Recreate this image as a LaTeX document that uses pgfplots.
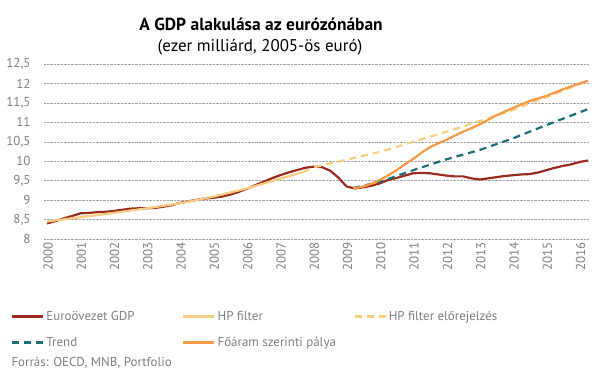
\documentclass[border=0pt]{standalone}
\usepackage{pgfplots}
\pgfplotsset{compat=1.18}
\usepackage{fontspec}
\setmainfont{PT Sans}
\definecolor{gdp}{HTML}{9C2B1F}
\definecolor{hp}{HTML}{F6CD82}
\definecolor{fo}{HTML}{F79A44}
\definecolor{tr}{HTML}{1F6E77}
\definecolor{txt}{HTML}{7F7F7F}
\begin{document}
\begin{tikzpicture}[x=1bp,y=1bp]
\path[use as bounding box] (-44bp,-139bp) rectangle (561bp,239bp);
\begin{axis}[
  at={(0,0)}, anchor=south west,
  scale only axis, width=545bp, height=175bp,
  xmin=1999.91, xmax=2016.28, ymin=8, ymax=12.5,
  ytick={8,8.5,...,12.5},
  xtick={2000,2001,...,2016},
  xticklabel style={rotate=90, anchor=east, font=\fontsize{13}{14}\selectfont, text=txt, yshift=-1bp},
  xticklabel={\pgfmathprintnumber[/pgf/number format/1000 sep=]{\tick}},
  yticklabel style={font=\fontsize{13}{14}\selectfont, text=txt, xshift=-10bp},
  /pgf/number format/use comma,
  /pgf/number format/assume math mode=true,
  axis line style={draw=none},
  major tick length=0pt,
  ymajorgrids, grid style={densely dotted, gray!70},
  legend columns=3,
  legend style={draw=none, fill=none, at={(-36bp,-68bp)}, anchor=north west,
    font=\fontsize{13}{14}\selectfont, text=txt, row sep=11bp,
    /tikz/every even column/.append style={column sep=0bp}},
  legend cell align=left,
  legend image code/.code={\draw[#1] (0bp,0bp) -- (31bp,0bp);},
  every axis plot/.append style={line width=2.2bp, line join=round},
]
\addplot[gdp] coordinates {
(2000.0,8.40)(2000.25,8.46)(2000.5,8.53)(2000.75,8.59)(2001.0,8.66)(2001.25,8.67)(2001.5,8.69)(2001.75,8.70)
(2002.0,8.72)(2002.25,8.75)(2002.5,8.78)(2002.75,8.79)(2003.0,8.79)(2003.25,8.80)(2003.5,8.83)(2003.75,8.87)
(2004.0,8.93)(2004.25,8.97)(2004.5,9.01)(2004.75,9.04)(2005.0,9.06)(2005.25,9.09)(2005.5,9.14)(2005.75,9.21)
(2006.0,9.29)(2006.25,9.38)(2006.5,9.47)(2006.75,9.56)(2007.0,9.64)(2007.25,9.71)(2007.5,9.77)(2007.75,9.83)
(2008.0,9.86)(2008.25,9.85)(2008.5,9.76)(2008.75,9.58)(2009.0,9.35)(2009.25,9.30)(2009.5,9.33)(2009.75,9.37)
(2010.0,9.43)(2010.25,9.52)(2010.5,9.57)(2010.75,9.63)(2011.0,9.69)(2011.25,9.70)(2011.5,9.69)(2011.75,9.66)
(2012.0,9.63)(2012.25,9.61)(2012.5,9.61)(2012.75,9.56)(2013.0,9.53)(2013.25,9.56)(2013.5,9.59)(2013.75,9.62)
(2014.0,9.64)(2014.25,9.66)(2014.5,9.67)(2014.75,9.71)(2015.0,9.77)(2015.25,9.83)(2015.5,9.88)(2015.75,9.92)
(2016.0,9.98)(2016.25,10.02)};
\addlegendentry{\makebox[134bp][l]{Euroövezet GDP}}
\addplot[hp] coordinates {
(2000.0,8.45)(2001.0,8.56)(2002.0,8.67)(2003.0,8.79)(2004.0,8.92)(2005.0,9.09)(2006.0,9.30)(2007.0,9.55)(2007.7,9.72)};
\addlegendentry{\makebox[134bp][l]{HP filter}}
\addplot[hp, dash pattern=on 7bp off 5bp] coordinates {
(2007.7,9.72)(2008.0,9.84)(2009.0,10.04)(2010.0,10.24)(2011.0,10.50)(2012.0,10.76)(2013.0,11.03)(2014.0,11.32)(2015.0,11.65)(2016.0,11.98)(2016.25,12.07)};
\addlegendentry{HP filter előrejelzés}
\addplot[tr, dash pattern=on 7bp off 5bp] coordinates {
(2009.2,9.31)(2010.0,9.47)(2011.0,9.77)(2012.0,10.05)(2013.0,10.29)(2014.0,10.59)(2015.0,10.93)(2016.25,11.34)};
\addlegendentry{Trend}
\addplot[fo] coordinates {
(2009.2,9.30)(2009.5,9.35)(2009.75,9.42)(2010.0,9.52)(2010.25,9.64)(2010.5,9.77)(2010.75,9.92)(2011.0,10.06)(2011.25,10.22)(2011.5,10.36)(2011.75,10.46)
(2012.0,10.55)(2012.25,10.66)(2012.5,10.76)(2012.75,10.85)(2013.0,10.95)(2013.5,11.18)(2014.0,11.37)(2014.5,11.55)(2015.0,11.68)(2015.5,11.85)(2016.0,12.00)(2016.25,12.07)};
\addlegendentry{Főáram szerinti pálya}
\end{axis}
\node[font=\bfseries\fontsize{17.5}{19}\selectfont] at (217bp,215bp) {A GDP alakulása az eurózónában};
\node[font=\fontsize{17}{19}\selectfont] at (216bp,192bp) {(ezer milliárd, 2005-ös euró)};
\node[anchor=west, font=\fontsize{13}{14}\selectfont, text=txt] at (-36bp,-124bp) {Forrás: OECD, MNB, Portfolio};
\end{tikzpicture}
\end{document}
